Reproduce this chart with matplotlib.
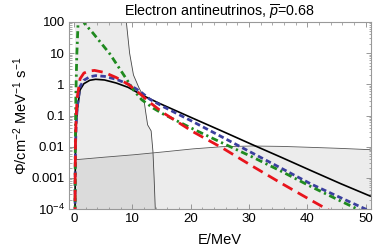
import numpy as np
import matplotlib
matplotlib.use('Agg')
import matplotlib.pyplot as plt
from matplotlib.ticker import FixedLocator, FixedFormatter, MultipleLocator, LogLocator, NullFormatter

plt.rcParams['font.family'] = ['Liberation Sans', 'DejaVu Sans']
plt.rcParams['mathtext.fontset'] = 'custom'
plt.rcParams['mathtext.rm'] = 'Liberation Sans'
plt.rcParams['mathtext.it'] = 'Liberation Sans:italic'

# flux curves (E in MeV, flux in cm^-2 MeV^-1 s^-1)
E_black = [0.17, 0.19, 0.25, 0.37, 0.57, 1.03, 1.69, 2.7, 3.71, 5.23, 7.25, 9.28, 11.9, 14.74, 20.41, 25.47,
           30.53, 35.59, 40.65, 45.71, 50.77]
f_black = [4e-5, 6e-4, 0.01, 0.05, 0.15, 0.66, 1.05, 1.35, 1.45, 1.38, 1.1, 0.8, 0.43, 0.24, 0.081, 0.031,
           0.0117, 0.0045, 0.0017, 6.5e-4, 2.6e-4]

E_blue = [0.17, 0.19, 0.25, 0.37, 0.57, 1.03, 1.69, 2.7, 3.71, 5.23, 7.25, 9.28, 11.3, 13.02, 15.35, 20.41,
          25.47, 30.53, 35.59, 40.65, 45.71, 50.77]
f_blue = [4e-5, 6e-4, 0.01, 0.06, 0.2, 0.85, 1.35, 1.75, 1.9, 1.8, 1.45, 1.02, 0.6, 0.33, 0.19, 0.063, 0.02,
          0.0063, 0.002, 6.3e-4, 2.3e-4, 8.5e-5]

E_red = [0.17, 0.19, 0.25, 0.37, 0.57, 1.03, 1.69, 2.5, 3.51, 5.23, 7.25, 9.28, 11.3, 13.02, 15.35, 20.41,
         25.47, 30.53, 35.59, 40.65, 45.71, 50.77]
f_red = [5e-5, 8e-4, 0.015, 0.1, 0.4, 1.5, 2.3, 2.65, 2.8, 2.4, 1.65, 1.0, 0.5, 0.26, 0.12, 0.03, 0.009,
         0.0024, 6.6e-4, 1.9e-4, 5.6e-5, 1.6e-5]

E_green = [0.18, 0.22, 0.32, 0.47, 0.68, 0.88, 1.18, 1.49, 1.79, 3.21, 6.14, 8.77, 10.19, 11.61, 13.63, 15.35,
           20.41, 25.47, 30.53, 35.59, 40.65, 45.71, 50.77]
f_green = [5e-5, 0.01, 0.5, 8, 80, 180, 200, 130, 90, 45, 9.5, 1.7, 0.66, 0.32, 0.17, 0.11, 0.037, 0.013,
           0.0047, 0.0016, 5.2e-4, 1.8e-4, 6.3e-5]

# excluded regions
E_flat = [0.17, 5.23, 10.29, 15.35, 20.41, 25.47, 30.53, 35.59, 40.65, 45.71, 50.77]
f_flat = [0.0038, 0.0046, 0.0055, 0.0068, 0.0085, 0.0100, 0.0105, 0.0102, 0.0095, 0.0088, 0.0080]

E_steep = [8.77, 8.97, 9.53, 10.19, 11.1, 11.91, 12.31, 12.62, 13.22, 13.53, 13.73, 13.93, 14.03]
f_steep = [300, 100, 10, 2, 0.8, 0.4, 0.12, 0.05, 0.032, 0.007, 0.001, 1e-4, 1e-5]

yticks = [1e-4, 1e-3, 1e-2, 1e-1, 1, 10, 100]
ylabels = ['$10^{-4}$', '0.001', '0.01', '0.1', '1', '10', '100']

fig = plt.figure(figsize=(3.74, 2.5), dpi=100)
ax = fig.add_axes([0.1845, 0.164, 0.8067, 0.748])

ax.fill_between(np.r_[E_flat[0], E_steep], 1e-6, np.r_[f_steep[0], f_steep], color='0.5', alpha=0.15, lw=0)
ax.fill_between(E_flat, 1e-6, f_flat, color='0.5', alpha=0.15, lw=0)
ax.plot(E_steep, f_steep, color='#444444', lw=0.6)
ax.plot(E_flat, f_flat, color='#555555', lw=0.6)

ax.plot(E_black, f_black, color='black', lw=1.2)
ax.plot(E_blue, f_blue, color='#3b3f9e', lw=2, ls=(0, (2, 1.2)))
ax.plot(E_green, f_green, color='#1f8a1f', lw=2, ls=(0, (2.5, 1.3, 0.8, 1.3)))
ax.plot(E_red, f_red, color='#e8141c', lw=2, ls=(0, (4, 2.2)))

ax.set_yscale('log')
ax.set_xlim(-0.86, 50.86)
ax.set_ylim(1e-4, 100)
ax.yaxis.set_major_locator(FixedLocator(yticks))
ax.yaxis.set_major_formatter(FixedFormatter(ylabels))
ax.yaxis.set_minor_locator(LogLocator(base=10, subs=np.arange(2, 10)))
ax.yaxis.set_minor_formatter(NullFormatter())
ax.xaxis.set_major_locator(MultipleLocator(10))
ax.xaxis.set_minor_locator(MultipleLocator(2))

ax.tick_params(which='both', direction='in', top=True, right=True, color='#888888', labelsize=9.5, pad=3)
ax.tick_params(which='major', length=3.5, width=0.6)
ax.tick_params(which='minor', length=1.8, width=0.5)
for s in ax.spines.values():
    s.set_color('#999999')
    s.set_linewidth(0.8)

ax.set_xlabel('E/MeV', fontsize=10.5, labelpad=6)
ax.set_ylabel('Φ/cm$^{-2}$ MeV$^{-1}$ s$^{-1}$', fontsize=10.5, labelpad=1)
ax.set_title('Electron antineutrinos, $\\overline{p}$=0.68', fontsize=10.3, pad=4)

fig.savefig('out.png', dpi=100)
